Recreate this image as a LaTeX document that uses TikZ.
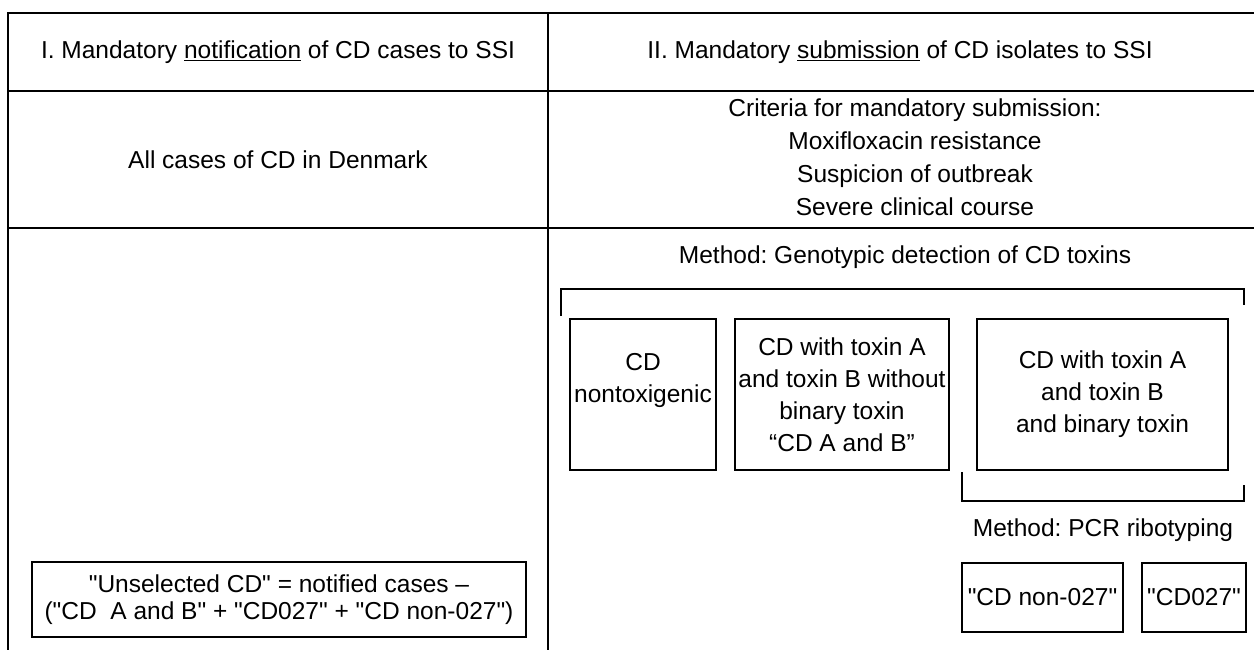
\documentclass[tikz,border=0pt]{standalone}
\usepackage{fontspec}
\setmainfont{Liberation Sans}[Ligatures=TeXOff]
\usetikzlibrary{positioning}
\frenchspacing

\begin{document}
\begin{tikzpicture}[x=1pt, y=-1pt, every node/.style={font=\fontsize{24.5}{32}\selectfont, align=center},
        box/.style={draw, line width=2pt, inner sep=0pt}, rule/.style={line width=2pt}]
        \useasboundingbox (0,0) rectangle (1254,650);

        \draw[rule] (8,650) -- (8,13) -- (1254,13);
        \draw[rule] (548,13) -- (548,650);
        \draw[rule] (8,91) -- (1254,91);
        \draw[rule] (8,228) -- (1254,228);

        \node (head1) at (278,52) {I. Mandatory \underline{notification} of CD cases to SSI};
        \node (head2) at (900,52) {II. Mandatory \underline{submission} of CD isolates to SSI};
        \node (allcd) at (278,160) {All cases of CD in Denmark};
        \node[font=\fontsize{24.5}{33}\selectfont] (crit) at (915,157) {Criteria for mandatory submission:\\Moxifloxacin resistance\\Suspicion of outbreak\\Severe clinical course};
        \node (genot) at (905,257) {Method: Genotypic detection of CD toxins};

        \draw[rule] (561,316) -- (561,289) -- (1244,289) -- (1244,305);
        \node[box, minimum width=146, minimum height=151, text depth=34pt] (nontox) at (643,394.5) {CD\\nontoxigenic};
        \node[box, minimum width=214, minimum height=151] (toxab) at (842,394.5) {CD with toxin A\\and toxin B without\\binary toxin\\“CD A and B”};
        \node[box, minimum width=251, minimum height=151] (toxbin) at (1102.5,394.5) {CD with toxin A\\and toxin B\\and binary toxin};

        \draw[rule] (962,472) -- (962,501) -- (1244,501) -- (1244,485);
        \node (pcr) at (1103,530) {Method: PCR ribotyping};
        \node[box, minimum width=161, minimum height=69] (non027) at (1042.5,597.5) {"CD non-027"};
        \node[box, minimum width=104, minimum height=69] (cd027) at (1194,597.5) {"CD027"};

        \node[box, minimum width=494, minimum height=75, font=\fontsize{24.5}{27}\selectfont] (unsel) at (279,599.5) {"Unselected CD" = notified cases –\\("CD\ \ A and B" + "CD027" + "CD non-027")};
        \end{tikzpicture}
\end{document}
